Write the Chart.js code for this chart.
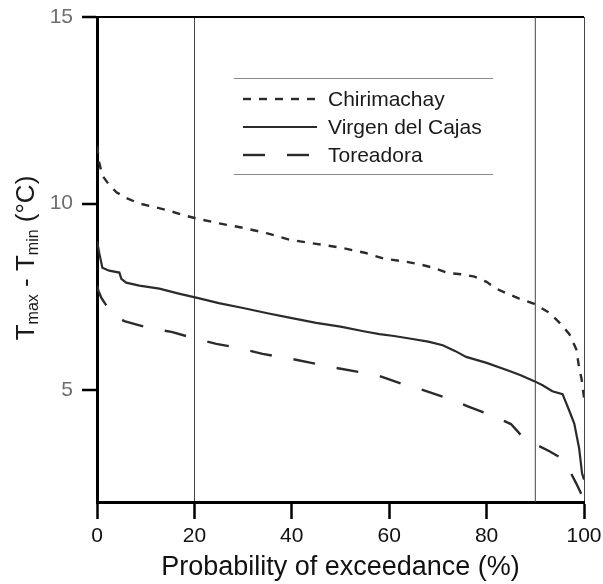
<!DOCTYPE html>
<html>
<head>
<meta charset="utf-8">
<script src="https://cdn.jsdelivr.net/npm/chart.js@4.4.1/dist/chart.umd.min.js"></script>
<style>
  body { margin:0; background:#fff; }
  canvas { display:block; }
</style>
</head>
<body>
<canvas id="chart" width="603" height="584"></canvas>
<script>
// ── DATA ──
const chiriX = [0,0.5,1.1,2.5,4,6,8.7,12,15,18,20.4,25,30,35,39.5,45,50,55,59,63,66,69,72,75,77.5,80,82,84,86.7,89.8,92.9,95,97,98.4,99,99.5,100];
const chiriY = [11.55,11.07,10.75,10.5,10.3,10.15,10.0,9.9,9.8,9.68,9.6,9.47,9.35,9.2,9.03,8.92,8.82,8.68,8.52,8.45,8.38,8.28,8.14,8.1,8.04,7.9,7.72,7.6,7.45,7.31,7.07,6.8,6.5,6.1,5.6,5.3,4.8];

const cajasX = [0,0.5,1.1,2.5,4.6,5,6,8.7,12.8,17,20.6,25,30,35,39.5,45,50,55,58,61,64.8,68,71,73.5,75.8,80,84.7,87,89.8,91.5,93.5,95.6,97,98,99,99.6,100];
const cajasY = [9.0,8.65,8.28,8.2,8.15,7.98,7.88,7.8,7.72,7.58,7.47,7.33,7.2,7.06,6.94,6.8,6.7,6.57,6.5,6.45,6.37,6.3,6.2,6.05,5.89,5.73,5.51,5.4,5.24,5.13,4.97,4.89,4.44,4.1,3.44,2.77,2.6];

const toreX = [0,0.3,0.9,1.7,3.5,5.6,10,12.5,15.3,19.6,24.5,29,34,39,44,48,54,58,62.7,67,72,76,80.8,85,87,88.8,92.9,95,96.4,98.4,99.5,100];
const toreY = [7.8,7.66,7.47,7.31,7.0,6.85,6.69,6.62,6.56,6.4,6.24,6.13,5.97,5.86,5.73,5.62,5.48,5.38,5.16,5.0,4.78,4.57,4.33,4.09,3.8,3.63,3.36,3.2,3.0,2.5,2.2,2.0];

const seriesNames = ['Chirimachay', 'Virgen del Cajas', 'Toreadora'];
const xTicks = [0, 20, 40, 60, 80, 100];
const yTicks = [5, 10, 15];
const refLineX = 90;
const yMin = 2, yMax = 15;

const pts = (xs, ys) => xs.map((x, i) => ({ x, y: ys[i] }));
const FONT = '"Liberation Sans", Arial, sans-serif';

// ── PLUGINS ──
const boxLegend = {
    id: 'boxLegend',
    afterDraw(chart) {
        const c = chart.ctx;
        c.save();
        c.strokeStyle = '#8a8a8a';
        c.lineWidth = 1;
        [78.5, 174.5].forEach(y => {
            c.beginPath(); c.moveTo(234, y); c.lineTo(493, y); c.stroke();
        });
        const items = chart.data.datasets.filter(d => d.label);
        items.forEach((d, i) => {
            const y = 99 + i * 28;
            c.strokeStyle = d.borderColor;
            c.lineWidth = d.borderWidth;
            c.setLineDash(d.borderDash || []);
            c.beginPath(); c.moveTo(243, y); c.lineTo(317, y); c.stroke();
            c.setLineDash([]);
            c.fillStyle = '#1a1a1a';
            c.font = '21px ' + FONT;
            c.textBaseline = 'middle';
            c.fillText(d.label, 328, y + 1);
        });
        c.restore();
    }
};

const yTitle = {
    id: 'yTitle',
    afterDraw(chart) {
        const c = chart.ctx;
        const parts = [['T', 26, 0], ['max', 16, 4], [' - T', 26, 0], ['min', 16, 4], [' (°C)', 26, 0]];
        c.save();
        c.fillStyle = '#1a1a1a';
        c.textBaseline = 'alphabetic';
        let total = 0;
        parts.forEach(p => { c.font = p[1] + 'px ' + FONT; total += c.measureText(p[0]).width; });
        c.translate(34, 258);
        c.rotate(-Math.PI / 2);
        let x = -total / 2;
        parts.forEach(p => {
            c.font = p[1] + 'px ' + FONT;
            c.fillText(p[0], x, p[2]);
            x += c.measureText(p[0]).width;
        });
        c.restore();
    }
};

const lineCol = '#2b2b2b';

new Chart(document.getElementById('chart'), {
    type: 'line',
    data: {
        datasets: [
            { label: seriesNames[0], data: pts(chiriX, chiriY), borderColor: lineCol, borderWidth: 2.4, borderDash: [8, 8], pointRadius: 0, tension: 0 },
            { label: seriesNames[1], data: pts(cajasX, cajasY), borderColor: lineCol, borderWidth: 2.2, pointRadius: 0, tension: 0 },
            { label: seriesNames[2], data: pts(toreX, toreY), borderColor: lineCol, borderWidth: 2.4, borderDash: [22, 22], pointRadius: 0, tension: 0 },
            { label: '', data: [{ x: refLineX, y: yMin }, { x: refLineX, y: yMax }], borderColor: '#444', borderWidth: 1, pointRadius: 0 }
        ]
    },
    options: {
        responsive: false,
        animation: false,
        layout: { padding: { top: 17, right: 19, left: 0, bottom: 0 } },
        plugins: { legend: { display: false }, tooltip: { enabled: false } },
        scales: {
            x: {
                type: 'linear', min: 0, max: 100,
                afterBuildTicks: s => { s.ticks = xTicks.map(v => ({ value: v })); },
                afterFit: s => { s.height = 82; s.paddingLeft = 0; s.paddingRight = 0; },
                border: { display: true, color: '#000', width: 3 },
                grid: {
                    drawOnChartArea: true, drawTicks: true, tickLength: 17, tickWidth: 2.5, tickColor: '#000',
                    color: ctx => (ctx.tick && (ctx.tick.value === 20 || ctx.tick.value === 100)) ? '#444' : 'rgba(0,0,0,0)',
                    lineWidth: 1
                },
                ticks: { color: '#111', padding: 5, font: { size: 21, family: FONT } },
                title: { display: true, text: 'Probability of exceedance (%)', color: '#111', padding: { top: 0, bottom: 0 },
                         font: { size: 27, family: FONT } }
            },
            y: {
                type: 'linear', min: yMin, max: yMax,
                afterBuildTicks: s => { s.ticks = yTicks.map(v => ({ value: v })); },
                afterFit: s => { s.width = 97; },
                border: { display: true, color: '#000', width: 3 },
                grid: {
                    drawOnChartArea: true, drawTicks: true, tickLength: 15, tickWidth: 2.5, tickColor: '#000',
                    color: ctx => (ctx.tick && ctx.tick.value === 15) ? '#000' : 'rgba(0,0,0,0)',
                    lineWidth: 2
                },
                ticks: { color: '#6e6e6e', padding: 9, font: { size: 21, family: FONT, lineHeight: 0.6 } }
            }
        }
    },
    plugins: [boxLegend, yTitle]
});
</script>
</body>
</html>
